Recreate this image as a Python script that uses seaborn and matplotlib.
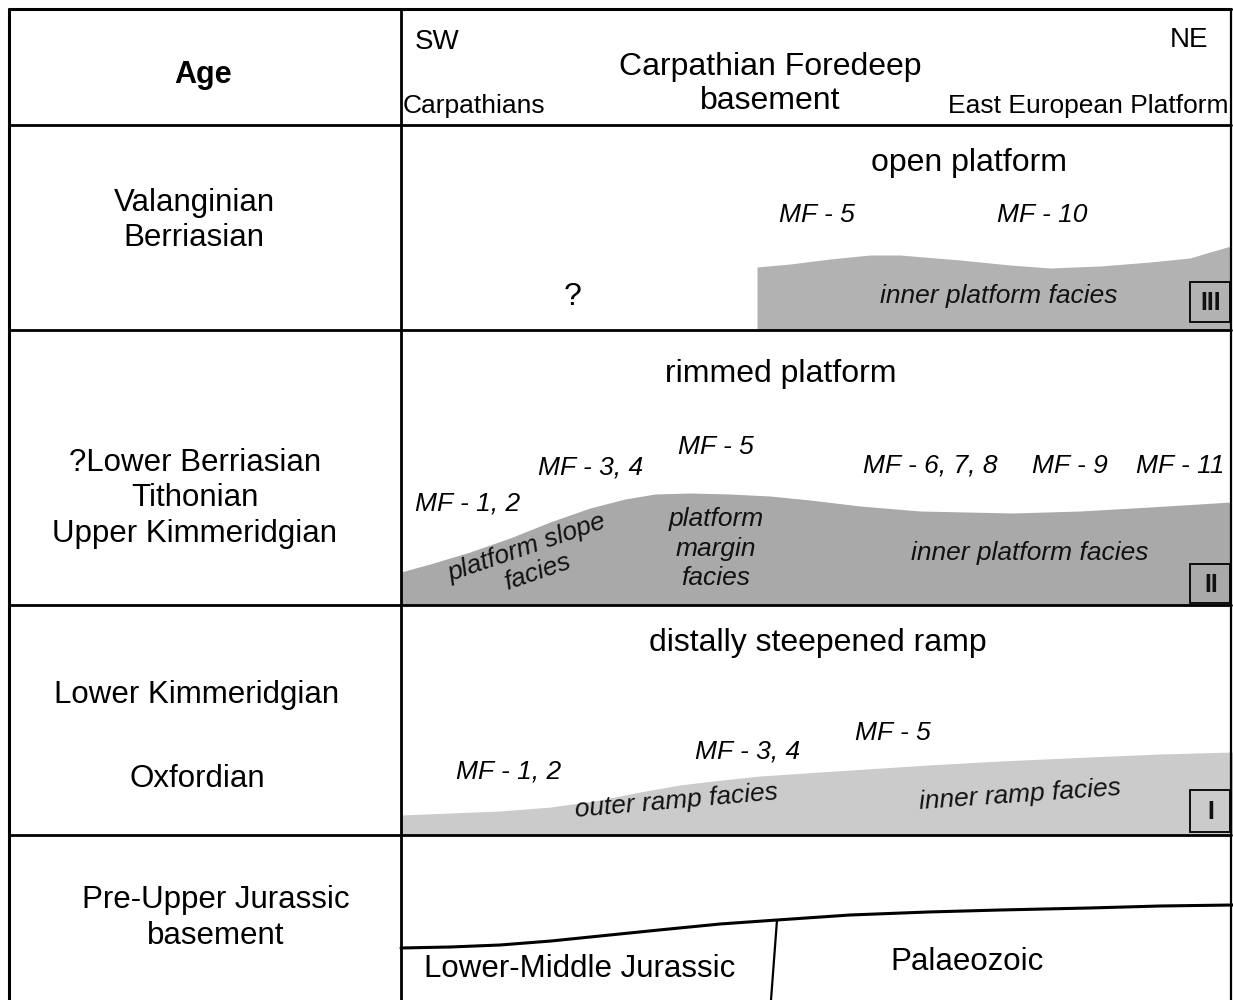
import numpy as np
import pandas as pd
import matplotlib
matplotlib.use("Agg")
import matplotlib.pyplot as plt
import seaborn as sns
from matplotlib.patches import Rectangle

# --- data (diagram units: x 0-1233 left->right, depth 0-1000 top->bottom) ---
row_lines = [125, 330, 605, 835]
age_labels = [["Valanginian", "Berriasian"],
              ["?Lower Berriasian", "Tithonian", "Upper Kimmeridgian"],
              ["Lower Kimmeridgian", "", "Oxfordian"],
              ["Pre-Upper Jurassic", "basement"]]

# sequence III (open platform)
seq3_x = [757, 790, 830, 870, 900, 960, 1010, 1050, 1100, 1150, 1190, 1210, 1231]
seq3_top = [267, 264, 259, 255, 255, 260, 265, 268, 266, 262, 258, 252, 246]
# sequence II (rimmed platform)
seq2_x = [401, 430, 470, 510, 550, 590, 625, 655, 690, 730, 770, 810, 860, 920,
          1013, 1080, 1150, 1231]
seq2_top = [572, 564, 552, 538, 522, 508, 499, 494, 493, 494, 496, 500, 506, 511,
            513, 511, 507, 502]
# sequence I (distally steepened ramp)
seq1_x = [401, 450, 500, 551, 600, 640, 680, 713, 760, 820, 928, 1000, 1089, 1160, 1233]
seq1_top = [815, 813, 811, 807, 800, 792, 785, 781, 776, 772, 765, 761, 757, 754, 752]
# top of pre-Upper Jurassic basement
base_x = [401, 450, 500, 551, 600, 659, 720, 777, 850, 928, 1000, 1089, 1160, 1233]
base_y = [948, 947, 945, 941, 936, 930, 924, 920, 915, 912, 910, 908, 906, 905]
fault_x = [777, 771]
fault_y = [920, 1000]

sns.set_theme(style="white")
plt.rcParams['font.family'] = ['Liberation Sans', 'DejaVu Sans']
plt.rcParams['text.color'] = 'black'

fig = plt.figure(figsize=(12.33, 10), dpi=100)
ax = fig.add_axes([0, 0, 1, 1])
ax.set_xlim(0, 1233)
ax.set_ylim(1000, 0)
ax.axis('off')

# grey facies bodies
ax.fill_between(seq3_x, seq3_top, 330, color='#b2b2b2', lw=0)
ax.fill_between(seq2_x, seq2_top, 605, color='#a9a9a9', lw=0)
ax.fill_between(seq1_x, seq1_top, 835, color='#cbcbcb', lw=0)

# basement boundary and fault
sns.lineplot(x=base_x, y=base_y, sort=False, color='black', lw=2.2, ax=ax)
sns.lineplot(x=fault_x, y=fault_y, sort=False, color='black', lw=1.6, ax=ax)

# table frame
ax.plot([9, 1231], [9, 9], color='black', lw=2.2)
ax.plot([9, 9], [9, 1000], color='black', lw=2.2)
ax.plot([1231, 1231], [9, 1000], color='black', lw=1.6)
ax.plot([401, 401], [9, 1000], color='black', lw=2.0)
for y in row_lines:
    ax.plot([9, 1231], [y, y], color='black', lw=2.0)

# sequence boxes
for (y0, y1, lab, col) in [(282, 322, "III", '#b2b2b2'), (564, 603, "II", '#a9a9a9'),
                           (790, 832, "I", '#cbcbcb')]:
    ax.add_patch(Rectangle((1190, y0), 40, y1 - y0, facecolor=col, edgecolor='black', lw=1.3))
    ax.text(1211, (y0 + y1) / 2 + 1, lab, ha='center', va='center', fontsize=18,
            fontweight='bold', color='#111111')

# header
ax.text(203, 75, "Age", ha='center', va='center', fontsize=22, fontweight='bold')
ax.text(415, 42, "SW", ha='left', va='center', fontsize=20)
ax.text(1208, 40, "NE", ha='right', va='center', fontsize=20)
ax.text(770, 67, "Carpathian Foredeep", ha='center', va='center', fontsize=23)
ax.text(770, 101, "basement", ha='center', va='center', fontsize=23)
ax.text(403, 106, "Carpathians", ha='left', va='center', fontsize=19)
ax.text(1228, 106, "East European Platform", ha='right', va='center', fontsize=19)

# age column
age_pos = [(194, [203, 238]), (195, [463, 498, 534]), (197, [695, 737, 779]), (216, [900, 936])]
for (x, ys), labels in zip(age_pos, age_labels):
    for y, lab in zip(ys, labels):
        ax.text(x, y, lab, ha='center', va='center', fontsize=22.5)

# titles
ax.text(969, 163, "open platform", ha='center', va='center', fontsize=23)
ax.text(781, 374, "rimmed platform", ha='center', va='center', fontsize=23)
ax.text(818, 643, "distally steepened ramp", ha='center', va='center', fontsize=23)
ax.text(573, 297, "?", ha='center', va='center', fontsize=23)

# microfacies labels
mf = [("MF - 5", 817, 215), ("MF - 10", 1042, 215),
      ("MF - 1, 2", 468, 503), ("MF - 3, 4", 591, 467), ("MF - 5", 716, 447),
      ("MF - 6, 7, 8", 930, 466), ("MF - 9", 1070, 466), ("MF - 11", 1180, 466),
      ("MF - 1, 2", 509, 771), ("MF - 3, 4", 748, 752), ("MF - 5", 893, 733)]
for lab, x, y in mf:
    ax.text(x, y, lab, ha='center', va='center', fontsize=19, style='italic')

# facies names
fac = [("inner platform facies", 999, 296, 0), ("platform slope", 527, 548, 19),
       ("facies", 537, 572, 19), ("platform", 716, 519, 0), ("margin", 716, 549, 0),
       ("facies", 716, 578, 0), ("inner platform facies", 1030, 553, 0),
       ("outer ramp facies", 676, 801, 5), ("inner ramp facies", 1020, 795, 4)]
for lab, x, y, r in fac:
    ax.text(x, y, lab, ha='center', va='center', fontsize=19, style='italic',
            rotation=r, rotation_mode='anchor', color='#111111')

ax.text(580, 969, "Lower-Middle Jurassic", ha='center', va='center', fontsize=22.5)
ax.text(967, 962, "Palaeozoic", ha='center', va='center', fontsize=22.5)

fig.savefig("out.png", dpi=100, facecolor='white')
